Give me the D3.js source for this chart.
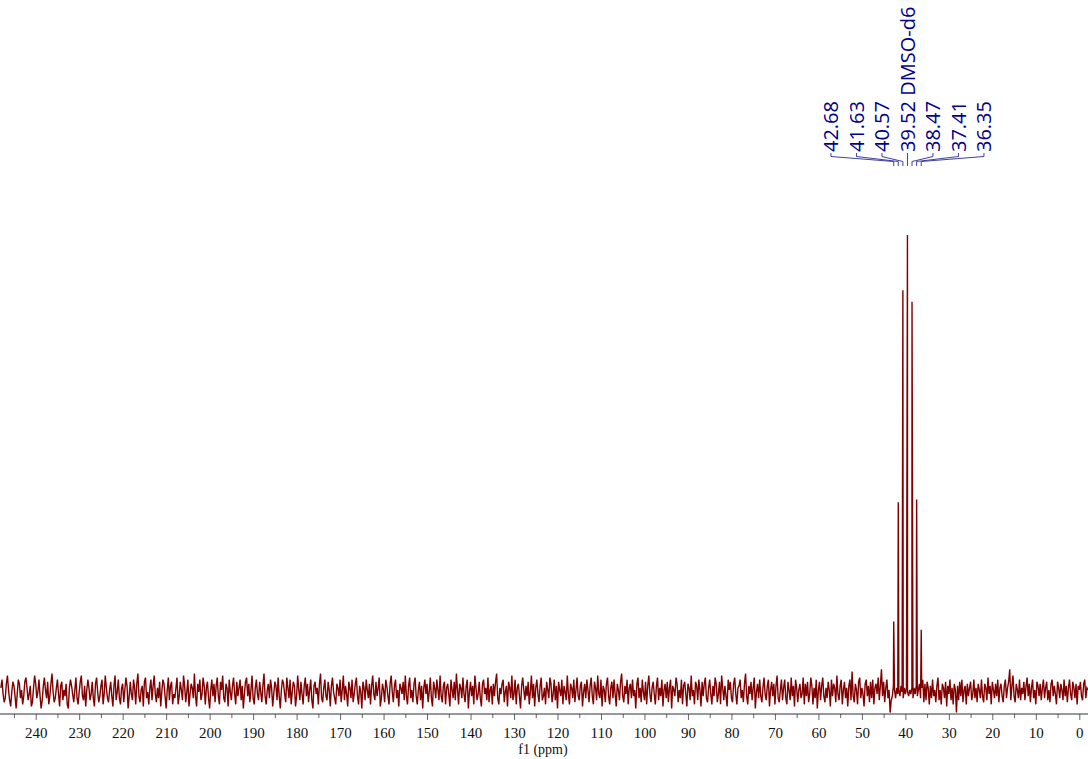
<!DOCTYPE html>
<html><head><meta charset="utf-8">
<script src="https://cdn.jsdelivr.net/npm/d3@7"></script>
<style>body{margin:0;background:#fff}svg{display:block}</style>
</head><body>
<svg id="c" width="1088" height="759"></svg>
<script>
// ---- data ----
const ppmStart = 248, ppmStep = 0.25;          // noise sampled every 0.25 ppm from 248 ppm downward
const noiseUnit = 0.45;                        // noise values below are in units of 0.45 intensity
const noise = [
2,6,-1,-5,-3,4,8,1,-4,-7,0,5,3,-2,-8,-1,6,4,-3,1,
-6,-2,5,7,2,-4,-1,3,-7,-5,2,8,4,-3,0,6,-2,-8,-4,3,
7,1,-3,5,-6,-2,4,9,0,-5,-3,2,6,-1,-7,3,5,-4,1,-2,
4,-6,-8,2,6,3,-1,-5,1,7,-3,-6,0,5,8,-2,-4,3,-7,1,
6,2,-4,-1,5,-3,-7,4,7,0,-5,-2,3,6,-6,-1,8,2,-3,-5,
1,5,-2,-7,3,8,-4,0,6,-3,-6,2,4,-5,1,7,3,-8,-2,5,
-1,-4,6,2,-6,4,9,-2,-5,1,3,-7,5,7,-3,0,-6,2,6,-4,
3,8,-1,-5,2,-3,5,-7,0,6,4,-2,-8,1,7,-4,3,5,-6,-1,
-3,2,7,-6,-2,5,1,-4,8,3,-5,0,6,-7,-1,4,2,-3,9,-2,
-7,4,0,6,-4,-1,7,3,-6,2,5,-3,-8,1,6,-2,4,-5,3,7,
-2,-6,5,1,8,-3,-5,4,2,-7,6,0,-4,3,7,-1,-6,5,-2,2,
6,-4,3,-8,-1,5,7,-2,4,-5,1,8,-3,-6,2,6,-1,-4,5,0,
-5,3,9,-2,-6,1,4,-3,6,2,-7,-1,5,3,-4,7,-2,-8,1,6,
4,-1,-5,7,2,-3,6,-6,0,5,3,-7,-2,8,1,-4,5,-1,-6,3,
7,-2,4,-5,1,6,-4,-8,3,5,-1,2,-6,4,9,-3,-5,2,6,-2,
-4,5,1,-7,3,7,0,-3,-6,4,2,-2,6,-5,1,8,-4,3,-1,-7,
5,2,-3,6,-5,-1,4,7,-2,-6,3,0,-8,5,2,-4,6,1,-3,4,
-6,3,8,-1,-4,5,-2,2,7,-7,-3,4,1,-5,6,3,-2,-6,4,8,
0,-5,3,6,-3,1,-7,4,2,-1,5,-4,8,-2,-6,3,7,-3,1,-5,
4,7,-2,-6,1,5,-4,3,-8,2,6,-1,4,-5,0,7,-3,-7,5,2,
-3,6,1,-4,8,-2,-5,3,5,-6,2,4,-1,-7,6,1,-3,5,-4,9,
1,-6,4,2,-3,7,-1,-5,3,6,-8,0,5,-2,3,-6,8,2,-4,-1,
5,-3,-7,4,6,-1,2,-4,7,-5,1,3,-6,4,-2,5,9,-3,-6,2,
-1,4,6,-5,0,3,-7,5,2,-3,8,-4,-1,6,-6,2,4,-2,-8,3,
7,1,-4,3,-2,5,-6,0,8,-3,4,-7,2,6,-1,-5,3,7,-4,-2,
2,-6,5,1,-3,7,4,-5,-1,6,-4,3,-8,5,1,-2,6,-6,3,0,
-4,8,-1,-6,4,2,-3,6,-5,1,7,-2,-4,3,5,-7,0,4,-3,6,
1,-5,3,7,-2,-6,5,2,-4,8,-1,-3,6,-7,3,1,-5,4,7,-2,
-6,2,5,-3,6,-1,-7,4,1,-4,5,9,-2,-5,3,-1,6,-6,2,4,
-3,6,-2,1,-8,4,7,-3,2,-5,6,0,-4,5,-6,3,8,-1,-5,2,
5,-1,-6,3,7,-4,2,-2,6,-7,1,4,-3,5,-5,2,6,-8,3,1,
-2,7,4,-5,1,-3,6,-6,3,5,-1,-7,4,2,-4,8,-2,1,-6,5,
3,-4,6,1,-7,5,-2,4,7,-3,-5,2,6,-1,-6,3,-2,7,4,-5,
-1,5,-6,8,2,-4,3,-2,-7,6,1,5,-3,-5,4,7,-1,-6,2,3,
6,-3,1,-5,4,9,-2,-6,3,-1,5,-4,2,7,-8,0,4,-3,6,-2,
-5,2,7,-1,-4,3,6,-7,1,5,-2,4,-6,3,8,-3,-5,1,6,-4,
2,6,-3,-6,5,1,-4,7,-2,3,-7,6,2,-5,1,4,-3,-1,7,-6,
4,-2,5,-5,-1,7,3,-6,2,-3,6,-8,1,5,-4,3,7,-2,-5,2,
-3,5,1,-7,6,-2,4,2,-5,8,-1,-4,3,6,-6,1,5,-3,2,-7,
3,6,-4,10,-2,-5,4,1,-6,5,7,-3,2,-1,-7,4,6,-2,3,-5,
5,-3,6,-6,2,4,-1,7,-4,3,11,-2,5,-5,2,6,-3,1,-10,-4,
-2,3,1,-3,2,-1,1,-2,3,0,-3,2,-1,2,0,-2,1,-1,2,-3,
2,-1,3,-2,1,4,-3,2,6,-5,4,-4,5,2,-6,3,-3,6,-2,1,
-5,3,7,-4,1,-6,4,2,-3,5,-7,3,-1,6,-4,2,-6,4,1,-10,
3,-4,5,-2,6,-5,1,3,-6,4,-2,2,5,-4,-1,6,-3,2,-5,4,
1,-3,6,-2,-5,4,2,-4,7,-1,3,-6,5,1,-3,4,-2,6,-5,2,
4,-2,-5,3,6,-3,2,5,11,-4,3,8,-2,-5,4,1,-3,6,-4,2,
-1,5,-4,3,7,-2,4,-5,2,6,-3,1,-6,5,3,-2,4,-4,2,6,
-3,2,5,-4,1,-5,4,6,-2,3,-1,-6,5,2,-3,4,1,-4,6,-2,
3,-5,2,6,-1,-4,5,2,-3,4,-6,3,1,5,-2,-4,4,6,-3,2,
1
];
const peakPpm    = [42.68, 41.63, 40.57, 39.52, 38.47, 37.41, 36.35];
const peakHeight = [15.4, 41.5, 87.9, 100, 85.4, 42.1, 13.6];
const peakLabels = ["42.68", "41.63", "40.57", "39.52 DMSO-d6", "38.47", "37.41", "36.35"];
const majorTicks = [240,230,220,210,200,190,180,170,160,150,140,130,120,110,100,90,80,70,60,50,40,30,20,10,0];
const minorTicks = [245,235,225,215,205,195,185,175,165,155,145,135,125,115,105,95,85,75,65,55,45,35,25,15,5];
const axisTitle = "f1 (ppm)";

// ---- build series ----
const series = noise.map((n, i) => ({ppm: ppmStart - i * ppmStep, v: n * noiseUnit}));
peakPpm.forEach((p, i) => series.push({ppm: p, v: peakHeight[i]}));
series.sort((a, b) => b.ppm - a.ppm);

// ---- scales ----
const svg = d3.select("#c");
const x = d3.scaleLinear().domain([240, 0]).range([35.7, 1079.3]);
const y = d3.scaleLinear().domain([0, 100]).range([692, 235]);
const axisY = 714;
const SERIF = "Liberation Serif";

// spectrum
svg.append("path")
  .datum(series)
  .attr("fill", "none")
  .attr("stroke", "#800000")
  .attr("stroke-width", 1.4)
  .attr("d", d3.line().x(d => x(d.ppm)).y(d => y(d.v)));

// axis
const gAx = svg.append("g").attr("transform", `translate(0,${axisY})`);
gAx.call(d3.axisBottom(x).tickValues(majorTicks).tickSize(6).tickPadding(7.5).tickFormat(d3.format("d")));
const gMin = svg.append("g").attr("transform", `translate(0,${axisY})`);
gMin.call(d3.axisBottom(x).tickValues(minorTicks).tickSize(4).tickFormat(""));
[gAx, gMin].forEach(g => {
  g.attr("font-family", SERIF).attr("font-size", 15);
  g.select(".domain").remove();
  g.selectAll(".tick line").attr("stroke", "#666").attr("stroke-width", 1);
});
gAx.selectAll(".tick text")
  .attr("font-family", SERIF).attr("font-size", 15).attr("fill", "#111");
svg.append("line").attr("x1", 0).attr("x2", 1088).attr("y1", axisY).attr("y2", axisY)
  .attr("stroke", "#333").attr("stroke-width", 1);
svg.append("text").attr("x", 543).attr("y", 754).attr("text-anchor", "middle")
  .attr("font-family", SERIF).attr("font-size", 14).attr("fill", "#111").text(axisTitle);

// peak labels
const centerIdx = 3, labelGap = 25.5;
const gL = svg.append("g");
peakPpm.forEach((p, i) => {
  const px = x(p);
  const lx = x(peakPpm[centerIdx]) + (i - centerIdx) * labelGap;
  gL.append("text")
    .attr("transform", `translate(${lx},152) rotate(-90)`)
    .attr("dominant-baseline", "central")
    .attr("text-anchor", "start")
    .attr("font-family", "Open Sans")
    .attr("font-size", 20)
    .attr("fill", "#00008b")
    .text(peakLabels[i]);
  const d = i === centerIdx
    ? `M${lx},153 V166`
    : `M${lx},153 V156.5 L${px},161.5 V166`;
  gL.append("path").attr("d", d).attr("fill", "none")
    .attr("stroke", "#2a2a9a").attr("stroke-width", 0.9);
});
</script>
</body></html>
